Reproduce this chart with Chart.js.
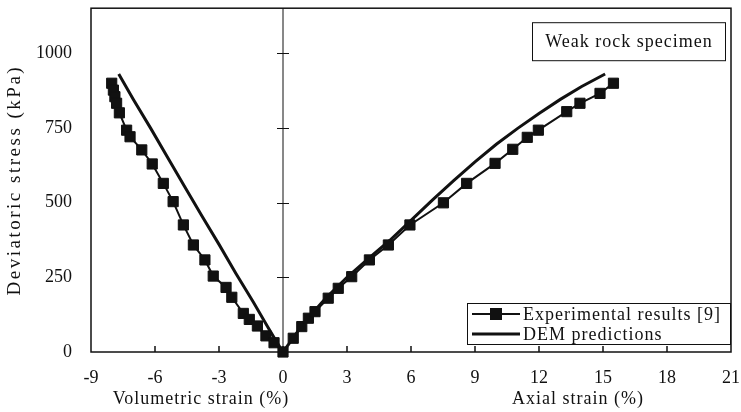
<!DOCTYPE html>
<html>
<head>
<meta charset="utf-8">
<script src="https://cdn.jsdelivr.net/npm/chart.js@4.4.1/dist/chart.umd.min.js"></script>
<style>
  html, body { margin: 0; padding: 0; background: #fff; }
</style>
</head>
<body>
<canvas id="stressChart" width="741" height="412"></canvas>
<script>
const serif = '"Liberation Serif", "Times New Roman", serif';
const ink = '#111';

// experimental results, volumetric side (top down to the origin)
const volStrainExp = [-8.03, -7.95, -7.88, -7.8, -7.67, -7.33, -7.17, -6.62, -6.13, -5.61, -5.15, -4.67, -4.2, -3.66, -3.27, -2.67, -2.4, -1.86, -1.58, -1.2, -0.8, -0.42, 0];
const volStressExp = [899, 876, 854, 832, 800, 742, 720, 676, 629, 564, 503, 425, 358, 308, 254, 216, 183, 129, 109, 87, 54, 31, 0];
// experimental results, axial side (origin upwards)
const axialStrainExp = [0.48, 0.88, 1.19, 1.5, 2.12, 2.59, 3.22, 4.05, 4.94, 5.95, 7.52, 8.61, 9.94, 10.77, 11.45, 11.97, 13.3, 13.92, 14.86, 15.49];
const axialStressExp = [46, 85, 113, 135, 180, 213, 252, 308, 358, 425, 499, 564, 631, 678, 718, 742, 804, 832, 865, 899];

// DEM predictions
const volStrainDem = [-7.7, -7.0, -6.2, -5.4, -4.6, -3.8, -3.0, -2.2, -1.4, -0.7, -0.25, 0];
const volStressDem = [930, 843, 748, 650, 552, 455, 360, 262, 168, 82, 28, 0];
const axialStrainDem = [0.3, 1.0, 2.0, 3.0, 4.0, 5.0, 6.0, 7.0, 8.0, 9.0, 10.0, 11.0, 12.0, 13.0, 14.0, 15.1];
const axialStressDem = [30, 100, 180, 250, 312, 373, 440, 508, 573, 636, 695, 748, 798, 845, 888, 930];

const xTicks = [-9, -6, -3, 0, 3, 6, 9, 12, 15, 18, 21];
const yTicks = [0, 250, 500, 750, 1000];
const seriesNames = ['Experimental results [9]', 'DEM predictions'];
const specimenLabel = 'Weak rock specimen';
const xTitles = ['Volumetric strain (%)', 'Axial strain (%)'];
const yTitle = 'Deviatoric stress (kPa)';

function toPoints(xs, ys) {
  return xs.map((x, i) => ({ x: x, y: ys[i] }));
}

const expPoints = toPoints(volStrainExp, volStressExp).concat(toPoints(axialStrainExp, axialStressExp));
const demPoints = toPoints(volStrainDem, volStressDem).concat(toPoints(axialStrainDem, axialStressDem));

// fixed scale sizes so the plot frame lands where we want it
function fixSize(prop, size) {
  return s => {
    s[prop] = size;
    s.paddingTop = s.paddingBottom = s.paddingLeft = s.paddingRight = 0;
  };
}

// frame, zero line, inward ticks, axis titles, legend and label box
const decorations = {
  id: 'decorations',
  beforeDatasetsDraw(chart) {
    const ctx = chart.ctx, ca = chart.chartArea;
    const x0 = chart.scales.x.getPixelForValue(0);
    const ys = chart.scales.y;
    ctx.save();
    ctx.strokeStyle = ink;
    ctx.lineWidth = 1;
    ctx.beginPath();
    ctx.moveTo(x0, ca.top);
    ctx.lineTo(x0, ca.bottom);
    yTicks.forEach(v => {
      if (v === 0) return;
      const py = Math.round(ys.getPixelForValue(v)) + 0.5;
      ctx.moveTo(x0 - 6, py);
      ctx.lineTo(x0 + 6, py);
    });
    ctx.stroke();
    ctx.restore();
  },
  afterDatasetsDraw(chart) {
    const ctx = chart.ctx, ca = chart.chartArea;
    const xs = chart.scales.x;
    ctx.save();
    ctx.strokeStyle = ink;
    ctx.lineWidth = 1.5;
    ctx.strokeRect(ca.left, ca.top, ca.right - ca.left, ca.bottom - ca.top);

    ctx.beginPath();
    xTicks.forEach(v => {
      if (v === xTicks[0] || v === xTicks[xTicks.length - 1]) return;
      const px = xs.getPixelForValue(v);
      ctx.moveTo(px, ca.bottom);
      ctx.lineTo(px, ca.bottom - 6);
    });
    ctx.stroke();

    ctx.fillStyle = ink;
    ctx.font = '18px ' + serif;
    ctx.letterSpacing = '1px';
    ctx.textBaseline = 'middle';
    ctx.textAlign = 'center';
    ctx.fillText(xTitles[0], 201, ca.bottom + 47);
    ctx.fillText(xTitles[1], 578, ca.bottom + 47);

    // rotated y title
    ctx.save();
    ctx.translate(15, (ca.top + ca.bottom) / 2);
    ctx.rotate(-Math.PI / 2);
    ctx.font = '19px ' + serif;
    ctx.letterSpacing = '2.5px';
    ctx.fillText(yTitle, 0, 0);
    ctx.restore();

    // specimen label box
    ctx.lineWidth = 1;
    const bx = ca.right - 199, by = ca.top + 14;
    ctx.strokeRect(bx + 0.5, by + 0.5, 193, 38);
    ctx.fillText(specimenLabel, bx + 97, by + 20);

    // legend
    const lx = ca.right - 264, ly = ca.bottom - 49;
    ctx.fillStyle = '#fff';
    ctx.fillRect(lx, ly, 263, 41);
    ctx.strokeRect(lx + 0.5, ly + 0.5, 263, 41);
    ctx.fillStyle = ink;
    ctx.textAlign = 'left';
    const rows = [ly + 11, ly + 31];
    ctx.lineWidth = 2;
    ctx.beginPath();
    ctx.moveTo(lx + 5, rows[0]);
    ctx.lineTo(lx + 53, rows[0]);
    ctx.stroke();
    ctx.fillRect(lx + 23, rows[0] - 6, 12, 12);
    ctx.lineWidth = 3;
    ctx.beginPath();
    ctx.moveTo(lx + 5, rows[1]);
    ctx.lineTo(lx + 53, rows[1]);
    ctx.stroke();
    ctx.fillText(seriesNames[0], lx + 56, rows[0] + 1);
    ctx.fillText(seriesNames[1], lx + 56, rows[1] + 1);
    ctx.restore();
  }
};

new Chart(document.getElementById('stressChart').getContext('2d'), {
  type: 'line',
  data: {
    datasets: [
      {
        label: seriesNames[1],
        data: demPoints,
        borderColor: ink,
        borderWidth: 3,
        pointRadius: 0,
        tension: 0,
        clip: false,
        order: 2
      },
      {
        label: seriesNames[0],
        data: expPoints,
        borderColor: ink,
        backgroundColor: ink,
        borderWidth: 2,
        pointStyle: 'rect',
        pointRadius: 7.2,
        pointBorderWidth: 1,
        pointBackgroundColor: ink,
        pointBorderColor: ink,
        tension: 0,
        clip: false,
        order: 1
      }
    ]
  },
  options: {
    responsive: false,
    animation: false,
    layout: { padding: { top: 7, right: 10, left: 0, bottom: 0 } },
    plugins: {
      legend: { display: false },
      tooltip: { enabled: false }
    },
    scales: {
      x: {
        type: 'linear',
        min: -9,
        max: 21,
        grid: { display: false, drawTicks: false },
        border: { display: false },
        afterFit: fixSize('height', 60),
        ticks: {
          stepSize: 3,
          padding: 15,
          color: ink,
          font: { family: serif, size: 18 },
          callback: v => String(v)
        }
      },
      y: {
        type: 'linear',
        min: 0,
        max: 1150,
        grid: { display: false, drawTicks: false },
        border: { display: false },
        afterFit: fixSize('width', 91),
        afterBuildTicks: s => { s.ticks = s.ticks.filter(t => yTicks.includes(t.value)); },
        ticks: {
          stepSize: 250,
          padding: 19,
          color: ink,
          font: { family: serif, size: 18 },
          callback: v => String(v)
        }
      }
    }
  },
  plugins: [decorations]
});
</script>
</body>
</html>
